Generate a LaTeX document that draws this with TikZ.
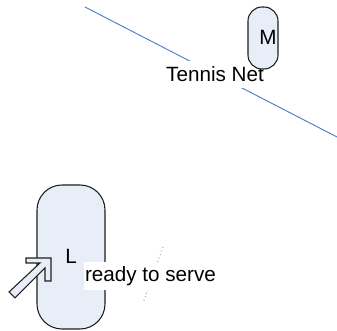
\documentclass[tikz,border=0pt]{standalone}
\usepackage{fontspec}
\setmainfont{Liberation Sans}
\definecolor{netblue}{RGB}{74,126,200}
\definecolor{nodefill}{RGB}{232,238,248}
\definecolor{dotblue}{RGB}{150,175,215}
\definecolor{edge}{RGB}{30,30,30}
\tikzset{
  playerL/.style={draw=edge, line width=0.8pt, fill=nodefill, minimum width=51pt, minimum height=108pt, rounded corners=18.75pt, inner sep=0pt},
  playerM/.style={draw=edge, line width=0.8pt, fill=nodefill, minimum width=22.5pt, minimum height=46.5pt, rounded corners=10.5pt, inner sep=0pt},
  lbl/.style={font=\fontsize{15.5pt}{18pt}\selectfont, inner sep=0pt},
  boxlbl/.style={font=\fontsize{15.5pt}{18pt}\selectfont, fill=white, inner xsep=1pt, inner ysep=0pt, text height=15pt, text depth=6pt},
  netline/.style={draw=netblue, line width=0.7pt},
  servedots/.style={draw=dotblue, line width=0.8pt, dotted},
  blockarrow/.style={draw=edge, line width=0.8pt, fill=nodefill, line join=miter}
}
\begin{document}
\begin{tikzpicture}[x=0.75pt,y=-0.75pt]
\useasboundingbox (0,0) rectangle (337,331);
% net
\coordinate (n1) at (85,7);
\coordinate (n2) at (337,137);
\draw[netline] (n1) -- (n2);
\node[boxlbl, text height=11pt, text depth=0pt, inner ysep=4.3pt] (net) at (215,74.5) {Tennis Net};
% player M
\node[playerM] (M) at (263,38) {};
\node[lbl] (Mt) at (268,37) {M};
% player L
\node[playerL] (L) at (71,257) {};
\node[lbl] (Lt) at (71,256) {L};
% dotted serve line
\coordinate (d1) at (163,247);
\coordinate (d2) at (143,303);
\draw[servedots] (d1) -- (d2);
\node[boxlbl] (rts) at (150.5,276) {ready to serve};
% block arrow
\draw[blockarrow] (51,258) -- (51,281) -- (45,281) -- (45,268) -- (15,298) -- (9,292) -- (40,263) -- (26,263) -- (26,258) -- cycle;
\end{tikzpicture}
\end{document}
